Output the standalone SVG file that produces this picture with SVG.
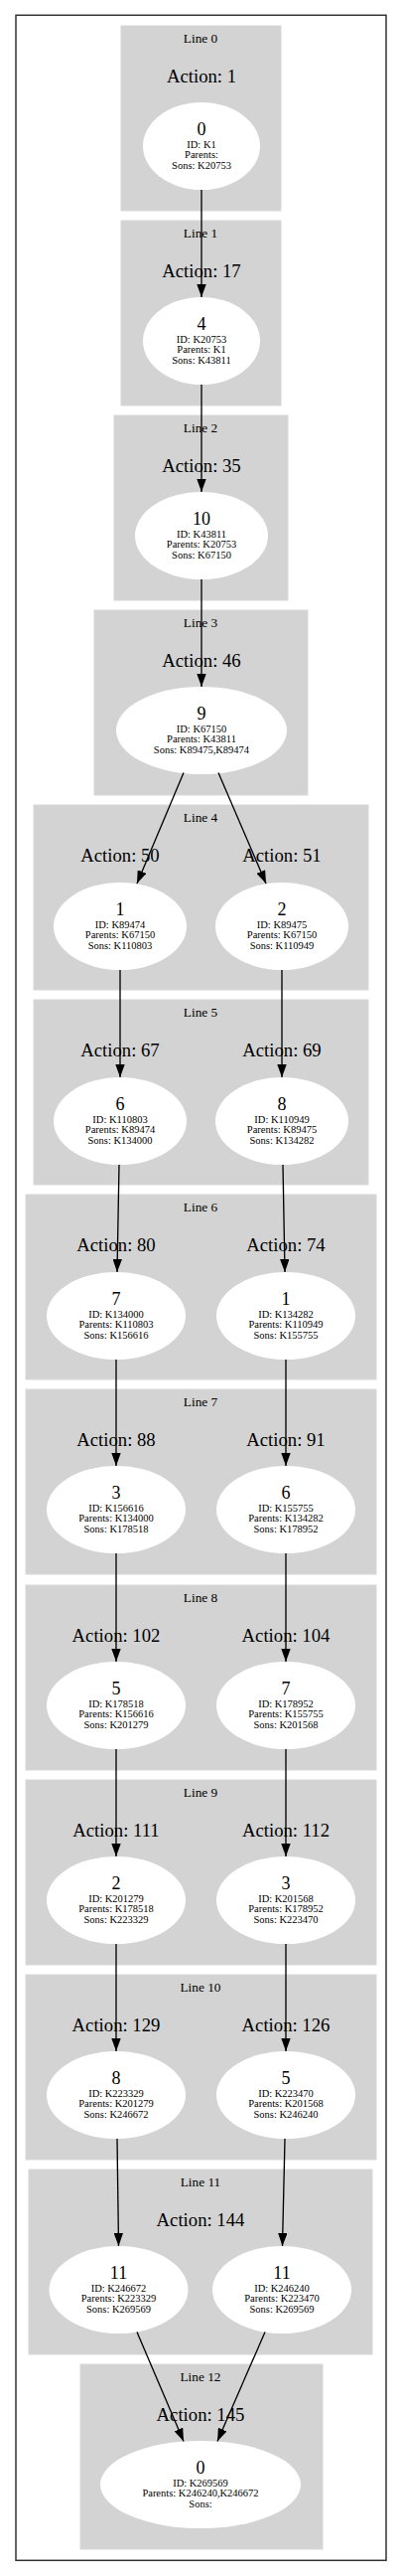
<svg xmlns="http://www.w3.org/2000/svg" width="405" height="2592" viewBox="0 0 405 2592">
<style>
text{font-family:"Liberation Serif","Times New Roman",serif;text-anchor:middle;fill:#000}
.cl{fill:#d3d3d3;stroke:#d8d8d8;stroke-width:1}
.ln{font-size:13.3px}
.ac{font-size:18.7px}
.num{font-size:18px}
.inf{font-size:10.5px}
ellipse{fill:#fff;stroke:none}
.e line{stroke:#000;stroke-width:1.33;marker-end:url(#ah)}
</style>
<defs>
<marker id="ah" markerUnits="userSpaceOnUse" viewBox="0 0 13 9.4" refX="13" refY="4.7" markerWidth="13" markerHeight="9.4" orient="auto">
<path d="M0,0 L13,4.7 L0,9.4 z" fill="#000"/>
</marker>
</defs>
<rect x="0" y="0" width="405" height="2592" fill="#fff"/>
<rect x="16" y="15.3" width="373" height="2561" fill="none" stroke="#333" stroke-width="1.5"/>

<g id="clusters">
<g id="line0"><rect class="cl" x="122" y="26" width="161" height="186"/><text class="ln" x="202" y="42.7">Line 0</text><text class="ac" x="203" y="83">Action: 1</text></g>
<g id="line1"><rect class="cl" x="122" y="222" width="161" height="186"/><text class="ln" x="202" y="238.7">Line 1</text><text class="ac" x="203" y="279">Action: 17</text></g>
<g id="line2"><rect class="cl" x="115" y="418" width="175" height="186"/><text class="ln" x="202" y="434.7">Line 2</text><text class="ac" x="203" y="475">Action: 35</text></g>
<g id="line3"><rect class="cl" x="95" y="614" width="215" height="186"/><text class="ln" x="202" y="630.7">Line 3</text><text class="ac" x="203" y="671">Action: 46</text></g>
<g id="line4"><rect class="cl" x="34" y="810" width="337" height="186"/><text class="ln" x="202" y="826.7">Line 4</text><text class="ac" x="121" y="867">Action: 50</text><text class="ac" x="284" y="867">Action: 51</text></g>
<g id="line5"><rect class="cl" x="34" y="1006" width="337" height="186"/><text class="ln" x="202" y="1022.7">Line 5</text><text class="ac" x="121" y="1063">Action: 67</text><text class="ac" x="284" y="1063">Action: 69</text></g>
<g id="line6"><rect class="cl" x="26" y="1202" width="353" height="186"/><text class="ln" x="202" y="1218.7">Line 6</text><text class="ac" x="117" y="1259">Action: 80</text><text class="ac" x="288" y="1259">Action: 74</text></g>
<g id="line7"><rect class="cl" x="26" y="1398" width="353" height="186"/><text class="ln" x="202" y="1414.7">Line 7</text><text class="ac" x="117" y="1455">Action: 88</text><text class="ac" x="288" y="1455">Action: 91</text></g>
<g id="line8"><rect class="cl" x="26" y="1595" width="353" height="186"/><text class="ln" x="202" y="1611.7">Line 8</text><text class="ac" x="117" y="1652">Action: 102</text><text class="ac" x="288" y="1652">Action: 104</text></g>
<g id="line9"><rect class="cl" x="26" y="1791" width="353" height="186"/><text class="ln" x="202" y="1807.7">Line 9</text><text class="ac" x="117" y="1848">Action: 111</text><text class="ac" x="288" y="1848">Action: 112</text></g>
<g id="line10"><rect class="cl" x="26" y="1987" width="353" height="186"/><text class="ln" x="202" y="2003.7">Line 10</text><text class="ac" x="117" y="2044">Action: 129</text><text class="ac" x="288" y="2044">Action: 126</text></g>
<g id="line11"><rect class="cl" x="29" y="2183" width="346" height="186"/><text class="ln" x="202" y="2199.7">Line 11</text><text class="ac" x="202" y="2240">Action: 144</text></g>
<g id="line12"><rect class="cl" x="81" y="2379" width="244" height="186"/><text class="ln" x="202" y="2395.7">Line 12</text><text class="ac" x="202" y="2436">Action: 145</text></g>
</g>

<g id="nodes">
<g id="n_l0_0"><ellipse cx="203" cy="147" rx="59" ry="44"/><text class="num" x="203" y="136">0</text><text class="inf" x="203" y="148.5">ID: K1</text><text class="inf" x="203" y="159">Parents: </text><text class="inf" x="203" y="169.5">Sons: K20753</text></g>
<g id="n_l1_4"><ellipse cx="203" cy="343" rx="59" ry="44"/><text class="num" x="203" y="332">4</text><text class="inf" x="203" y="344.5">ID: K20753</text><text class="inf" x="203" y="355">Parents: K1</text><text class="inf" x="203" y="365.5">Sons: K43811</text></g>
<g id="n_l2_10"><ellipse cx="203" cy="539" rx="67" ry="44"/><text class="num" x="203" y="528">10</text><text class="inf" x="203" y="540.5">ID: K43811</text><text class="inf" x="203" y="551">Parents: K20753</text><text class="inf" x="203" y="561.5">Sons: K67150</text></g>
<g id="n_l3_9"><ellipse cx="203" cy="735" rx="86" ry="44"/><text class="num" x="203" y="724">9</text><text class="inf" x="203" y="736.5">ID: K67150</text><text class="inf" x="203" y="747">Parents: K43811</text><text class="inf" x="203" y="757.5">Sons: K89475,K89474</text></g>
<g id="n_l4_1"><ellipse cx="121" cy="932" rx="67" ry="44"/><text class="num" x="121" y="921">1</text><text class="inf" x="121" y="933.5">ID: K89474</text><text class="inf" x="121" y="944">Parents: K67150</text><text class="inf" x="121" y="954.5">Sons: K110803</text></g>
<g id="n_l4_2"><ellipse cx="284" cy="932" rx="67" ry="44"/><text class="num" x="284" y="921">2</text><text class="inf" x="284" y="933.5">ID: K89475</text><text class="inf" x="284" y="944">Parents: K67150</text><text class="inf" x="284" y="954.5">Sons: K110949</text></g>
<g id="n_l5_6"><ellipse cx="121" cy="1128" rx="67" ry="44"/><text class="num" x="121" y="1117">6</text><text class="inf" x="121" y="1129.5">ID: K110803</text><text class="inf" x="121" y="1140">Parents: K89474</text><text class="inf" x="121" y="1150.5">Sons: K134000</text></g>
<g id="n_l5_8"><ellipse cx="284" cy="1128" rx="67" ry="44"/><text class="num" x="284" y="1117">8</text><text class="inf" x="284" y="1129.5">ID: K110949</text><text class="inf" x="284" y="1140">Parents: K89475</text><text class="inf" x="284" y="1150.5">Sons: K134282</text></g>
<g id="n_l6_7"><ellipse cx="117" cy="1324" rx="70" ry="44"/><text class="num" x="117" y="1313">7</text><text class="inf" x="117" y="1325.5">ID: K134000</text><text class="inf" x="117" y="1336">Parents: K110803</text><text class="inf" x="117" y="1346.5">Sons: K156616</text></g>
<g id="n_l6_1"><ellipse cx="288" cy="1324" rx="70" ry="44"/><text class="num" x="288" y="1313">1</text><text class="inf" x="288" y="1325.5">ID: K134282</text><text class="inf" x="288" y="1336">Parents: K110949</text><text class="inf" x="288" y="1346.5">Sons: K155755</text></g>
<g id="n_l7_3"><ellipse cx="117" cy="1519" rx="70" ry="44"/><text class="num" x="117" y="1508">3</text><text class="inf" x="117" y="1520.5">ID: K156616</text><text class="inf" x="117" y="1531">Parents: K134000</text><text class="inf" x="117" y="1541.5">Sons: K178518</text></g>
<g id="n_l7_6"><ellipse cx="288" cy="1519" rx="70" ry="44"/><text class="num" x="288" y="1508">6</text><text class="inf" x="288" y="1520.5">ID: K155755</text><text class="inf" x="288" y="1531">Parents: K134282</text><text class="inf" x="288" y="1541.5">Sons: K178952</text></g>
<g id="n_l8_5"><ellipse cx="117" cy="1716" rx="70" ry="44"/><text class="num" x="117" y="1705">5</text><text class="inf" x="117" y="1717.5">ID: K178518</text><text class="inf" x="117" y="1728">Parents: K156616</text><text class="inf" x="117" y="1738.5">Sons: K201279</text></g>
<g id="n_l8_7"><ellipse cx="288" cy="1716" rx="70" ry="44"/><text class="num" x="288" y="1705">7</text><text class="inf" x="288" y="1717.5">ID: K178952</text><text class="inf" x="288" y="1728">Parents: K155755</text><text class="inf" x="288" y="1738.5">Sons: K201568</text></g>
<g id="n_l9_2"><ellipse cx="117" cy="1912" rx="70" ry="44"/><text class="num" x="117" y="1901">2</text><text class="inf" x="117" y="1913.5">ID: K201279</text><text class="inf" x="117" y="1924">Parents: K178518</text><text class="inf" x="117" y="1934.5">Sons: K223329</text></g>
<g id="n_l9_3"><ellipse cx="288" cy="1912" rx="70" ry="44"/><text class="num" x="288" y="1901">3</text><text class="inf" x="288" y="1913.5">ID: K201568</text><text class="inf" x="288" y="1924">Parents: K178952</text><text class="inf" x="288" y="1934.5">Sons: K223470</text></g>
<g id="n_l10_8"><ellipse cx="117" cy="2108" rx="70" ry="44"/><text class="num" x="117" y="2097">8</text><text class="inf" x="117" y="2109.5">ID: K223329</text><text class="inf" x="117" y="2120">Parents: K201279</text><text class="inf" x="117" y="2130.5">Sons: K246672</text></g>
<g id="n_l10_5"><ellipse cx="288" cy="2108" rx="70" ry="44"/><text class="num" x="288" y="2097">5</text><text class="inf" x="288" y="2109.5">ID: K223470</text><text class="inf" x="288" y="2120">Parents: K201568</text><text class="inf" x="288" y="2130.5">Sons: K246240</text></g>
<g id="n_l11_11a"><ellipse cx="119.5" cy="2304" rx="70" ry="44"/><text class="num" x="119.5" y="2293">11</text><text class="inf" x="119.5" y="2305.5">ID: K246672</text><text class="inf" x="119.5" y="2316">Parents: K223329</text><text class="inf" x="119.5" y="2326.5">Sons: K269569</text></g>
<g id="n_l11_11b"><ellipse cx="284" cy="2304" rx="70" ry="44"/><text class="num" x="284" y="2293">11</text><text class="inf" x="284" y="2305.5">ID: K246240</text><text class="inf" x="284" y="2316">Parents: K223470</text><text class="inf" x="284" y="2326.5">Sons: K269569</text></g>
<g id="n_l12_0"><ellipse cx="202" cy="2500" rx="101" ry="44"/><text class="num" x="202" y="2489">0</text><text class="inf" x="202" y="2501.5">ID: K269569</text><text class="inf" x="202" y="2512">Parents: K246240,K246672</text><text class="inf" x="202" y="2522.5">Sons: </text></g>
</g>

<g id="edges" class="e">
<line x1="203" y1="191" x2="203" y2="299"/>
<line x1="203" y1="387" x2="203" y2="495"/>
<line x1="203" y1="583" x2="203" y2="691"/>
<line x1="185" y1="777.5" x2="138" y2="889"/>
<line x1="220" y1="777.5" x2="268" y2="889"/>
<line x1="121" y1="976" x2="121" y2="1084"/>
<line x1="284" y1="976" x2="284" y2="1084"/>
<line x1="120" y1="1172" x2="118" y2="1280"/>
<line x1="285" y1="1172" x2="287" y2="1280"/>
<line x1="117" y1="1368" x2="117" y2="1475"/>
<line x1="288" y1="1368" x2="288" y2="1475"/>
<line x1="117" y1="1563" x2="117" y2="1672"/>
<line x1="288" y1="1563" x2="288" y2="1672"/>
<line x1="117" y1="1760" x2="117" y2="1868"/>
<line x1="288" y1="1760" x2="288" y2="1868"/>
<line x1="117" y1="1956" x2="117" y2="2064"/>
<line x1="288" y1="1956" x2="288" y2="2064"/>
<line x1="118" y1="2152" x2="119.5" y2="2260"/>
<line x1="287" y1="2152" x2="284.5" y2="2260"/>
<line x1="138" y1="2346.5" x2="185" y2="2456.5"/>
<line x1="267" y1="2346.5" x2="219" y2="2456.5"/>
</g>
</svg>
